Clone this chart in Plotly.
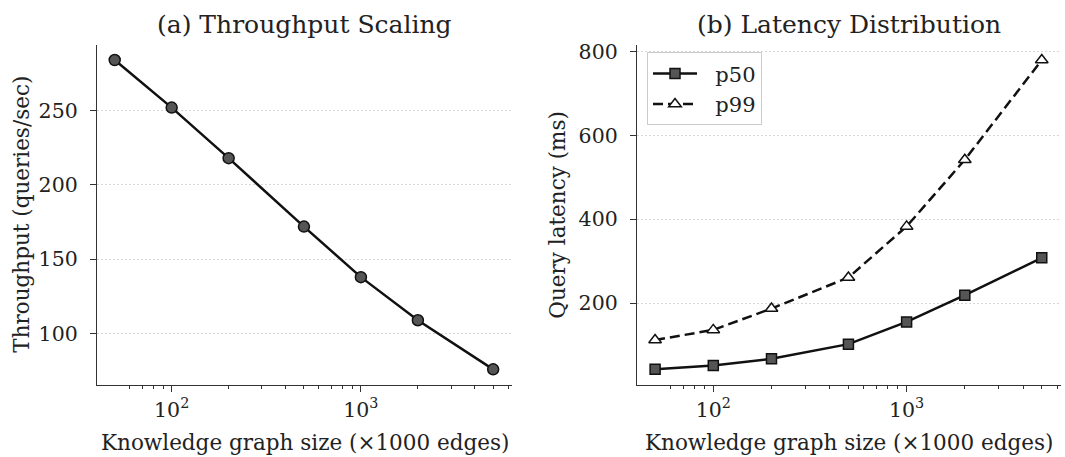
import plotly.graph_objects as go

sizes = [50, 100, 200, 500, 1000, 2000, 5000]
throughput = [284, 252, 218, 172, 138, 109, 76]
p50 = [42, 51, 67, 102, 155, 219, 308]
p99 = [112, 136, 187, 261, 383, 542, 780]
legend_names = ["p50", "p99"]

x_ticks = [100, 1000]
x_ticktext = ["10<sup>2</sup>", "10<sup>3</sup>"]
x_minor = [40, 60, 70, 80, 90, 200, 300, 400, 500, 600, 700, 800, 900,
           2000, 3000, 4000, 5000, 6000]
y1_ticks = [100, 150, 200, 250]
y2_ticks = [200, 400, 600, 800]

FONT = "DejaVu Serif"
INK = "#111111"
AX = "#333333"
TXT = "#222222"
PAD = "\u00a0\u00a0"

fig = go.Figure()

fig.add_trace(go.Scatter(
    x=sizes, y=throughput, mode="lines+markers", name="throughput",
    line=dict(color=INK, width=2.5),
    marker=dict(symbol="circle", size=11, color="#555555", line=dict(color=INK, width=1.5)),
    xaxis="x", yaxis="y", showlegend=False))

fig.add_trace(go.Scatter(
    x=sizes, y=p50, mode="lines+markers", name=PAD + legend_names[0],
    line=dict(color=INK, width=2.5),
    marker=dict(symbol="square", size=10, color="#555555", line=dict(color=INK, width=1.5)),
    xaxis="x2", yaxis="y2"))

fig.add_trace(go.Scatter(
    x=sizes, y=p99, mode="lines+markers", name=PAD + legend_names[1],
    line=dict(color=INK, width=2.5, dash="10px,5px"),
    marker=dict(symbol="triangle-up", size=11, color="white", line=dict(color=INK, width=1.5)),
    xaxis="x2", yaxis="y2"))

W, H = 1065, 457
def px(v):
    return v / W
def py(v):
    return 1 - v / H

xcommon = dict(
    type="log", showgrid=False, showline=True, linecolor=AX, linewidth=1.3,
    ticks="outside", ticklen=6, tickwidth=1.2, tickcolor=AX,
    tickvals=x_ticks, ticktext=x_ticktext,
    tickfont=dict(family=FONT, size=20.5, color=TXT),
    minor=dict(ticks="outside", ticklen=3, tickwidth=1, tickcolor=AX,
               tickvals=x_minor, showgrid=False),
    zeroline=False, range=[1.6054, 3.7985], mirror=False,
)
ycommon = dict(
    showgrid=True, gridcolor="#d6d6d6", griddash="2px,2px", gridwidth=1,
    showline=True, linecolor=AX, linewidth=1.3,
    ticks="outside", ticklen=6, tickwidth=1.2, tickcolor=AX,
    tickfont=dict(family=FONT, size=20.5, color=TXT),
    ticklabelstandoff=8,
    zeroline=False,
)

ydom = [py(384), py(40)]
fig.update_layout(
    width=W, height=H,
    margin=dict(l=0, r=0, t=0, b=0),
    paper_bgcolor="white", plot_bgcolor="white",
    font=dict(family=FONT, color=TXT),
    xaxis=dict(domain=[px(97), px(512)], anchor="y", **xcommon),
    yaxis=dict(domain=ydom, anchor="x", range=[65.6, 294.4], tickvals=y1_ticks, **ycommon),
    xaxis2=dict(domain=[px(637), px(1061)], anchor="y2", **xcommon),
    yaxis2=dict(domain=ydom, anchor="x2", range=[5, 817], tickvals=y2_ticks, **ycommon),
    legend=dict(x=px(647), y=py(48), xanchor="left", yanchor="top",
                bgcolor="rgba(255,255,255,0.85)", bordercolor="#cccccc", borderwidth=1,
                font=dict(family=FONT, size=21, color=TXT),
                itemwidth=44, tracegroupgap=2),
    showlegend=True,
)

annots = [
    dict(text="(a) Throughput Scaling", x=px(304.5), y=py(20), size=25),
    dict(text="(b) Latency Distribution", x=px(849), y=py(20), size=25),
    dict(text="Knowledge graph size (×1000 edges)", x=px(304.5), y=py(442), size=21.5),
    dict(text="Knowledge graph size (×1000 edges)", x=px(849), y=py(442), size=21.5),
]
for a in annots:
    fig.add_annotation(text=a["text"], x=a["x"], y=a["y"], xref="paper", yref="paper",
                       xanchor="center", yanchor="middle", showarrow=False,
                       font=dict(family=FONT, size=a["size"], color=TXT))
for txt, xc in [("Throughput (queries/sec)", 22), ("Query latency (ms)", 558)]:
    fig.add_annotation(text=txt, x=px(xc), y=py(212), xref="paper", yref="paper",
                       xanchor="center", yanchor="middle", showarrow=False, textangle=-90,
                       font=dict(family=FONT, size=21.5, color=TXT))

fig.write_html("out.html")
